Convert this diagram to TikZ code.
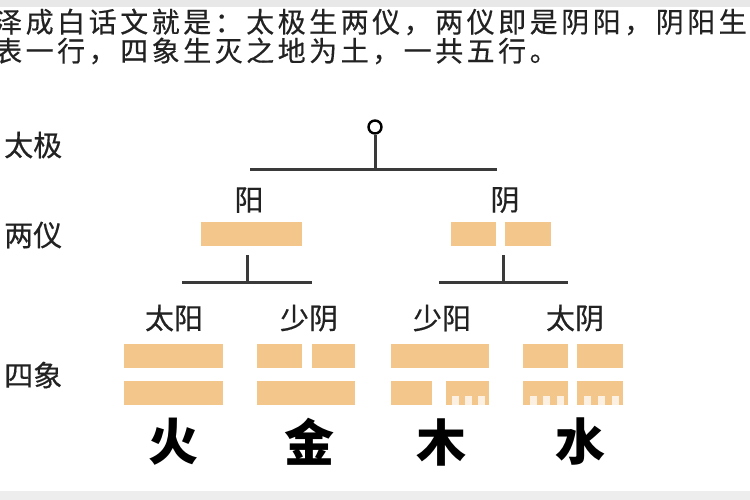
\documentclass[tikz,border=0pt]{standalone}
\usepackage{fontspec}
\newfontfamily\cjk{Noto Sans CJK SC}
\usetikzlibrary{calc}
\definecolor{yao}{HTML}{F3C68C}
\definecolor{ink}{HTML}{222222}
\definecolor{stem}{HTML}{3A3A3A}

\begin{document}
\begin{tikzpicture}[x=1pt,y=-1pt,
  txt/.style={font=\cjk\fontsize{28}{32}\selectfont\addfontfeature{LetterSpace=12.5,FakeBold=0.4}, text=ink, inner sep=0pt, anchor=west},
  lbl/.style={font=\cjk\fontsize{29}{34}\selectfont\addfontfeature{FakeBold=0.4}, text=ink, inner sep=0pt},
  bar/.style={fill=yao, draw=none, inner sep=0pt, minimum height=24pt},
  notched/.style={path picture={
    \foreach \t in {0.15,0.45,0.75}
      \fill[white,opacity=.75] ($(path picture bounding box.south west)!\t!(path picture bounding box.south east)$) rectangle ++(7,-9);}},
  wx/.style={font=\cjk\bfseries\fontsize{50}{56}\selectfont, inner sep=0pt},
  branch/.style={draw=stem, line width=3pt}]
\clip (0,0) rectangle (750,500);
\fill[gray!18] (0,0) rectangle (750,7);
\fill[gray!14] (0,491) rectangle (750,500);

% text above
\node[txt] (line1) at (-6,22) {泽成白话文就是：太极生两仪，两仪即是阴阳，阴阳生};
\node[txt] (line2) at (-6,51) {表一行，四象生灭之地为土，一共五行。};

% rows
\node[lbl, anchor=west] (taiji) at (4,145) {太极};
\node[lbl, anchor=west] (liangyi) at (4,235) {两仪};
\node[lbl, anchor=west] (sixiang) at (4,375) {四象};

% taiji
\node[circle, draw=black, line width=2.4pt, minimum size=13pt, inner sep=0pt] (wuji) at (375,127) {};
\coordinate (fork) at (375,170);
\coordinate (forkL) at (250,170);
\coordinate (forkR) at (497,170);
\draw[branch] (wuji) -- (fork);
\draw[branch] (forkL) -- (forkR);

% liangyi
\node[lbl] (yang) at (249,200) {阳};
\node[lbl] (yin) at (505,200) {阴};
\node[bar, minimum width=101pt] (yangbar) at (251.5,234) {};
\node[bar, minimum width=45pt] (yinbarA) at (473.5,234) {};
\node[bar, minimum width=46pt] (yinbarB) at (528,234) {};

\coordinate (yangfork) at (247,282);
\coordinate (yinfork) at (503,282);
\draw[branch] ([yshift=-9pt]yangbar.south -| yangfork) -- (yangfork);
\draw[branch] ([yshift=-9pt]yinbarB.south -| yinfork) -- (yinfork);
\draw[branch] (182,282) coordinate (yangforkL) -- (312,282) coordinate (yangforkR);
\draw[branch] (439,282) coordinate (yinforkL) -- (568,282) coordinate (yinforkR);

% sixiang
\node[lbl] (taiyang) at (174,318) {太阳};
\node[lbl] (shaoyin) at (309,318) {少阴};
\node[lbl] (shaoyang) at (442,318) {少阳};
\node[lbl] (taiyin) at (575,318) {太阴};

\node[bar, minimum width=99pt] (taiyangA) at (173.5,356) {};
\node[bar, minimum width=99pt] (taiyangB) at (173.5,393) {};

\node[bar, minimum width=45pt] (shaoyinA) at (279.5,356) {};
\node[bar, minimum width=43pt] (shaoyinB) at (333.5,356) {};
\node[bar, minimum width=98pt] (shaoyinC) at (306,393) {};

\node[bar, minimum width=98pt] (shaoyangA) at (440,356) {};
\node[bar, minimum width=41pt] (shaoyangB) at (411.5,393) {};
\node[bar, notched, minimum width=43pt] (shaoyangC) at (467.5,393) {};

\node[bar, minimum width=45pt] (taiyinA) at (545.5,356) {};
\node[bar, minimum width=46pt] (taiyinB) at (600,356) {};
\node[bar, notched, minimum width=45pt] (taiyinC) at (545.5,393) {};
\node[bar, notched, minimum width=46pt] (taiyinD) at (600,393) {};

% wuxing
\node[wx] (huo) at (173,442) {火};
\node[wx] (jin) at (309,442) {金};
\node[wx] (mu) at (441,442) {木};
\node[wx] (shui) at (580,442) {水};
\end{tikzpicture}
\end{document}
